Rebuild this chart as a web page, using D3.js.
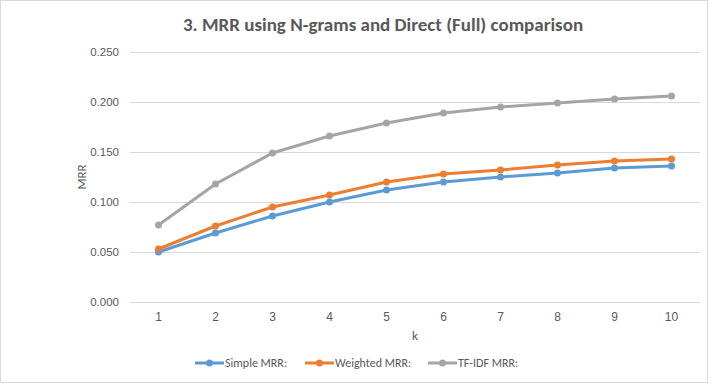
<!DOCTYPE html>
<html>
<head>
<meta charset="utf-8">
<script src="https://cdn.jsdelivr.net/npm/d3@7"></script>
<style>
  body { margin: 0; background: #fff; }
  svg { display: block; font-family: Carlito, Calibri, "Liberation Sans Narrow", "Liberation Sans", sans-serif; }
  .grid line { stroke: #d9d9d9; stroke-width: 1; }
  .tick text { fill: #595959; font-size: 12px; }
</style>
</head>
<body>
<div class="container"></div>
<script>
var WIDTH = 712, HEIGHT = 386;

var kValues = ["1", "2", "3", "4", "5", "6", "7", "8", "9", "10"];
var seriesNames = ["Simple MRR:", "Weighted MRR:", "TF-IDF MRR:"];
var seriesColors = ["#5b9bd5", "#ed7d31", "#a5a5a5"];
var simpleMRR = [0.050, 0.069, 0.086, 0.100, 0.112, 0.120, 0.125, 0.129, 0.134, 0.136];
var weightedMRR = [0.053, 0.076, 0.095, 0.107, 0.120, 0.128, 0.132, 0.137, 0.141, 0.143];
var tfidfMRR = [0.077, 0.118, 0.149, 0.166, 0.179, 0.189, 0.195, 0.199, 0.203, 0.206];
var yTicks = [0, 0.05, 0.1, 0.15, 0.2, 0.25];

var margin = { top: 52, right: 12, bottom: 84, left: 130 };

var svg = d3.select(".container")
    .append("svg")
    .attr("width", WIDTH)
    .attr("height", HEIGHT);

// outer chart border
svg.append("rect")
    .attr("x", 0.5).attr("y", 0.5)
    .attr("width", WIDTH - 5).attr("height", HEIGHT - 4)
    .attr("fill", "#fff")
    .attr("stroke", "#d9d9d9");

var x = d3.scaleBand()
    .domain(kValues)
    .range([margin.left, WIDTH - margin.right]);

var y = d3.scaleLinear()
    .domain([0, 0.25])
    .range([HEIGHT - margin.bottom, margin.top]);

// gridlines + y labels
var yAxis = svg.append("g")
    .attr("class", "grid")
    .attr("transform", "translate(" + margin.left + ",0)")
    .call(d3.axisLeft(y)
        .tickValues(yTicks)
        .tickFormat(d3.format(".3f"))
        .tickSize(-(WIDTH - margin.left - margin.right))
        .tickPadding(11));
yAxis.select(".domain").remove();
yAxis.selectAll(".tick text").style("font-size", "11.5px");

// x labels
var xAxis = svg.append("g")
    .attr("transform", "translate(0," + (HEIGHT - margin.bottom) + ")")
    .call(d3.axisBottom(x).tickSize(0).tickPadding(10));
xAxis.select(".domain").remove();

// axis titles
svg.append("text")
    .attr("x", (margin.left + WIDTH - margin.right) / 2)
    .attr("y", 340)
    .attr("text-anchor", "middle")
    .attr("fill", "#595959")
    .attr("font-size", 13)
    .text("k");

svg.append("text")
    .attr("transform", "translate(86," + ((margin.top + HEIGHT - margin.bottom) / 2) + ") rotate(-90)")
    .attr("text-anchor", "middle")
    .attr("fill", "#595959")
    .attr("font-size", 13)
    .text("MRR");

// title
svg.append("text")
    .attr("x", 383)
    .attr("y", 31)
    .attr("text-anchor", "middle")
    .attr("fill", "#595959")
    .attr("font-size", 19)
    .attr("font-weight", "bold")
    .text("3. MRR using N-grams and Direct (Full) comparison");

var allSeries = [simpleMRR, weightedMRR, tfidfMRR];

var line = d3.line()
    .x(function (d, i) { return x(kValues[i]) + x.bandwidth() / 2; })
    .y(function (d) { return y(d); });

var series = svg.selectAll(".series")
    .data(allSeries)
    .enter()
    .append("g")
    .attr("class", "series");

series.append("path")
    .attr("d", line)
    .attr("fill", "none")
    .attr("stroke", function (d, i) { return seriesColors[i]; })
    .attr("stroke-width", 3)
    .attr("stroke-linejoin", "round");

series.each(function (vals, si) {
    d3.select(this).selectAll("circle")
        .data(vals)
        .enter()
        .append("circle")
        .attr("cx", function (d, i) { return x(kValues[i]) + x.bandwidth() / 2; })
        .attr("cy", function (d) { return y(d); })
        .attr("r", 3.5)
        .attr("fill", seriesColors[si]);
});

// legend
var legendX = [195, 305, 428];
var legend = svg.selectAll(".legend-item")
    .data(seriesNames)
    .enter()
    .append("g")
    .attr("class", "legend-item")
    .attr("transform", function (d, i) { return "translate(" + legendX[i] + ",363)"; });

legend.append("line")
    .attr("x1", 0).attr("x2", 29)
    .attr("stroke", function (d, i) { return seriesColors[i]; })
    .attr("stroke-width", 3);

legend.append("circle")
    .attr("cx", 14.5).attr("r", 3.5)
    .attr("fill", function (d, i) { return seriesColors[i]; });

legend.append("text")
    .attr("x", 30)
    .attr("y", 4)
    .attr("fill", "#595959")
    .attr("font-size", 12)
    .text(function (d) { return d; });
</script>
</body>
</html>
